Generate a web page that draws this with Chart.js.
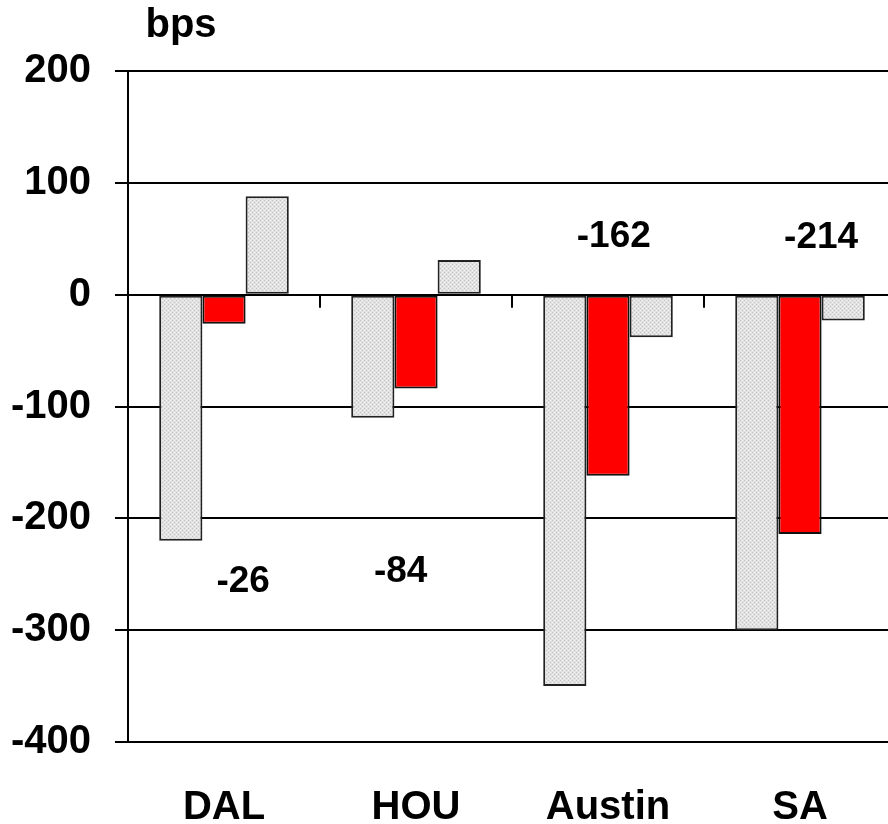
<!DOCTYPE html>
<html lang="en">
<head>
    <meta charset="UTF-8">
    <title>bps by city</title>
    <script src="https://cdn.jsdelivr.net/npm/chart.js@4.4.0/dist/chart.umd.min.js"></script>
    <style>
        html, body {
            margin: 0;
            padding: 0;
            background: #fff;
            overflow: hidden;
        }
        .chart-box {
            width: 900px;
            height: 824px;
        }
    </style>
</head>
<body>
    <div class="chart-box">
        <canvas id="bpsChart"></canvas>
    </div>

    <script>
        // Chart data
        const cities = ['DAL', 'HOU', 'Austin', 'SA'];
        const firstSeries = [-220, -110, -350, -300];
        const redSeries = [-26, -84, -162, -214];
        const lastSeries = [88, 31, -38, -23];
        const yTicks = [-400, -300, -200, -100, 0, 100, 200];

        // Where the red value labels sit (category offset, value on the y scale)
        const labelOffsets = [0.10, -0.08, 0.03, 0.11];
        const labelLevels = [-257, -248, 52, 51];

        const FONT = "'Liberation Sans', Arial, sans-serif";

        // Light dotted fill for the grey bars
        function makeDots() {
            const c = document.createElement('canvas');
            c.width = 4;
            c.height = 4;
            const g = c.getContext('2d');
            g.fillStyle = '#e2e2e2';
            g.fillRect(0, 0, 4, 4);
            g.fillStyle = '#c4c4c4';
            g.fillRect(0, 0, 1, 1);
            g.fillRect(2, 2, 1, 1);
            g.fillStyle = '#f2f2f2';
            g.fillRect(2, 0, 1, 1);
            g.fillRect(0, 2, 1, 1);
            return g.createPattern(c, 'repeat');
        }
        const dots = makeDots();

        // Extra drawing: "bps" heading, the tick marks on the zero line, red value labels
        const extras = {
            id: 'extras',
            afterDatasetsDraw(chart) {
                const ctx = chart.ctx;
                const x = chart.scales.x;
                const y = chart.scales.y;
                const area = chart.chartArea;
                const zero = y.getPixelForValue(0);
                const step = (area.right - area.left) / cities.length;

                ctx.save();
                ctx.strokeStyle = '#000';
                ctx.lineWidth = 2;
                for (let i = 1; i < cities.length; i++) {
                    const px = Math.round(area.left + i * step);
                    ctx.beginPath();
                    ctx.moveTo(px, zero);
                    ctx.lineTo(px, zero + 13);
                    ctx.stroke();
                }

                ctx.fillStyle = '#000';
                ctx.font = 'bold 37px ' + FONT;
                ctx.textAlign = 'center';
                ctx.textBaseline = 'middle';
                redSeries.forEach((v, i) => {
                    const px = x.getPixelForValue(i) + labelOffsets[i] * step;
                    const py = y.getPixelForValue(labelLevels[i]);
                    ctx.fillText(String(v), px, py);
                });

                ctx.font = 'bold 40px ' + FONT;
                ctx.textBaseline = 'alphabetic';
                ctx.fillText('bps', area.left + 53, 37);
                ctx.restore();
            }
        };

        new Chart(document.getElementById('bpsChart'), {
            type: 'bar',
            data: {
                labels: cities,
                datasets: [
                    {
                        data: firstSeries,
                        backgroundColor: dots,
                        borderColor: '#222',
                        borderWidth: 2
                    },
                    {
                        data: redSeries,
                        backgroundColor: '#ff0000',
                        borderColor: '#111',
                        borderWidth: 2
                    },
                    {
                        data: lastSeries,
                        backgroundColor: dots,
                        borderColor: '#222',
                        borderWidth: 2
                    }
                ]
            },
            options: {
                responsive: true,
                maintainAspectRatio: false,
                animation: false,
                layout: {
                    padding: { top: 71, right: 4, left: 0, bottom: 0 }
                },
                plugins: {
                    legend: { display: false },
                    tooltip: { enabled: false }
                },
                datasets: {
                    bar: {
                        categoryPercentage: 0.675,
                        barPercentage: 1.0,
                        borderSkipped: false
                    }
                },
                scales: {
                    x: {
                        grid: { display: false },
                        border: { display: false },
                        ticks: {
                            color: '#000',
                            padding: 34,
                            maxRotation: 0,
                            font: { family: FONT, size: 40, weight: 'bold' }
                        },
                        afterFit(scale) {
                            scale.height = 82;
                        }
                    },
                    y: {
                        min: -400,
                        max: 200,
                        afterBuildTicks(scale) {
                            scale.ticks = yTicks.map(v => ({ value: v }));
                        },
                        grid: {
                            color: '#000',
                            lineWidth: 2,
                            tickLength: 13
                        },
                        border: {
                            display: true,
                            color: '#000',
                            width: 2
                        },
                        ticks: {
                            color: '#000',
                            padding: 24,
                            font: { family: FONT, size: 40, weight: 'bold' }
                        },
                        afterFit(scale) {
                            scale.width = 128;
                        }
                    }
                }
            },
            plugins: [extras]
        });
    </script>
</body>
</html>
